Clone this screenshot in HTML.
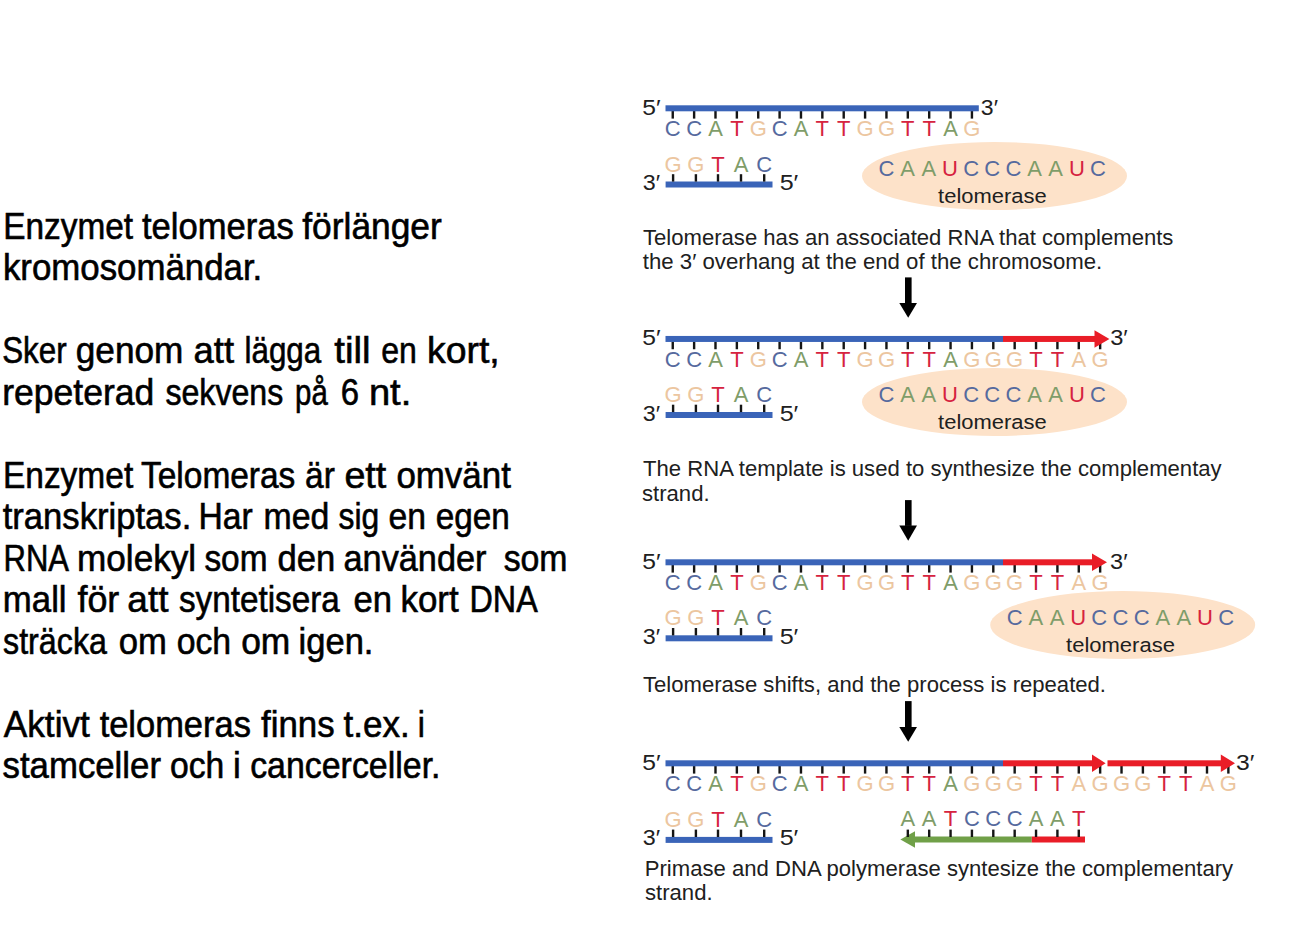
<!DOCTYPE html>
<html><head><meta charset="utf-8"><title>Telomeras</title>
<style>
html,body{margin:0;padding:0;background:#fff;width:1296px;height:936px;overflow:hidden}
svg{position:absolute;left:0;top:0;font-family:"Liberation Sans",sans-serif}
</style></head><body>
<svg width="1296" height="936" viewBox="0 0 1296 936">
<g id="left" font-size="36" fill="#000" stroke="#000" stroke-width="0.6">
<text id="W0_0" x="3.21" y="238.75" textLength="129.90" lengthAdjust="spacingAndGlyphs">Enzymet</text>
<text id="W0_1" x="141.93" y="238.75" textLength="151.82" lengthAdjust="spacingAndGlyphs">telomeras</text>
<text id="W0_2" x="302.31" y="238.75" textLength="139.49" lengthAdjust="spacingAndGlyphs">förlänger</text>
<text id="W1_0" x="2.88" y="280.25" textLength="259.39" lengthAdjust="spacingAndGlyphs">kromosomändar.</text>
<text id="W3_0" x="2.21" y="363.25" textLength="64.49" lengthAdjust="spacingAndGlyphs">Sker</text>
<text id="W3_1" x="75.74" y="363.25" textLength="107.65" lengthAdjust="spacingAndGlyphs">genom</text>
<text id="W3_2" x="193.55" y="363.25" textLength="40.45" lengthAdjust="spacingAndGlyphs">att</text>
<text id="W3_3" x="244.47" y="363.25" textLength="76.78" lengthAdjust="spacingAndGlyphs">lägga</text>
<text id="W3_4" x="334.34" y="363.25" textLength="36.34" lengthAdjust="spacingAndGlyphs">till</text>
<text id="W3_5" x="381.21" y="363.25" textLength="35.63" lengthAdjust="spacingAndGlyphs">en</text>
<text id="W3_6" x="427.06" y="363.25" textLength="72.62" lengthAdjust="spacingAndGlyphs">kort,</text>
<text id="W4_0" x="2.27" y="404.75" textLength="152.06" lengthAdjust="spacingAndGlyphs">repeterad</text>
<text id="W4_1" x="165.41" y="404.75" textLength="117.88" lengthAdjust="spacingAndGlyphs">sekvens</text>
<text id="W4_2" x="295.08" y="404.75" textLength="32.70" lengthAdjust="spacingAndGlyphs">på</text>
<text id="W4_3" x="340.82" y="404.75" textLength="18.30" lengthAdjust="spacingAndGlyphs">6</text>
<text id="W4_4" x="368.91" y="404.75" textLength="42.34" lengthAdjust="spacingAndGlyphs">nt.</text>
<text id="W6_0" x="2.92" y="487.75" textLength="130.30" lengthAdjust="spacingAndGlyphs">Enzymet</text>
<text id="W6_1" x="141.02" y="487.75" textLength="154.32" lengthAdjust="spacingAndGlyphs">Telomeras</text>
<text id="W6_2" x="305.11" y="487.75" textLength="29.75" lengthAdjust="spacingAndGlyphs">är</text>
<text id="W6_3" x="344.45" y="487.75" textLength="41.86" lengthAdjust="spacingAndGlyphs">ett</text>
<text id="W6_4" x="396.40" y="487.75" textLength="114.44" lengthAdjust="spacingAndGlyphs">omvänt</text>
<text id="W7_0" x="2.68" y="529.25" textLength="188.62" lengthAdjust="spacingAndGlyphs">transkriptas.</text>
<text id="W7_1" x="198.47" y="529.25" textLength="54.24" lengthAdjust="spacingAndGlyphs">Har</text>
<text id="W7_2" x="263.50" y="529.25" textLength="65.79" lengthAdjust="spacingAndGlyphs">med</text>
<text id="W7_3" x="338.48" y="529.25" textLength="40.69" lengthAdjust="spacingAndGlyphs">sig</text>
<text id="W7_4" x="388.42" y="529.25" textLength="37.46" lengthAdjust="spacingAndGlyphs">en</text>
<text id="W7_5" x="435.76" y="529.25" textLength="74.05" lengthAdjust="spacingAndGlyphs">egen</text>
<text id="W8_0" x="3.48" y="570.75" textLength="65.55" lengthAdjust="spacingAndGlyphs">RNA</text>
<text id="W8_1" x="77.03" y="570.75" textLength="119.14" lengthAdjust="spacingAndGlyphs">molekyl</text>
<text id="W8_2" x="204.40" y="570.75" textLength="63.07" lengthAdjust="spacingAndGlyphs">som</text>
<text id="W8_3" x="277.61" y="570.75" textLength="57.78" lengthAdjust="spacingAndGlyphs">den</text>
<text id="W8_4" x="343.57" y="570.75" textLength="142.88" lengthAdjust="spacingAndGlyphs">använder</text>
<text id="W8_5" x="503.64" y="570.75" textLength="63.92" lengthAdjust="spacingAndGlyphs">som</text>
<text id="W9_0" x="2.86" y="612.25" textLength="63.73" lengthAdjust="spacingAndGlyphs">mall</text>
<text id="W9_1" x="77.47" y="612.25" textLength="41.85" lengthAdjust="spacingAndGlyphs">för</text>
<text id="W9_2" x="127.35" y="612.25" textLength="41.07" lengthAdjust="spacingAndGlyphs">att</text>
<text id="W9_3" x="178.90" y="612.25" textLength="160.87" lengthAdjust="spacingAndGlyphs">syntetisera</text>
<text id="W9_4" x="353.61" y="612.25" textLength="38.53" lengthAdjust="spacingAndGlyphs">en</text>
<text id="W9_5" x="400.46" y="612.25" textLength="58.15" lengthAdjust="spacingAndGlyphs">kort</text>
<text id="W9_6" x="469.48" y="612.25" textLength="68.21" lengthAdjust="spacingAndGlyphs">DNA</text>
<text id="W10_0" x="3.07" y="653.75" textLength="103.86" lengthAdjust="spacingAndGlyphs">sträcka</text>
<text id="W10_1" x="118.73" y="653.75" textLength="48.12" lengthAdjust="spacingAndGlyphs">om</text>
<text id="W10_2" x="176.69" y="653.75" textLength="54.47" lengthAdjust="spacingAndGlyphs">och</text>
<text id="W10_3" x="241.14" y="653.75" textLength="49.20" lengthAdjust="spacingAndGlyphs">om</text>
<text id="W10_4" x="298.57" y="653.75" textLength="74.87" lengthAdjust="spacingAndGlyphs">igen.</text>
<text id="W12_0" x="3.70" y="736.75" textLength="86.23" lengthAdjust="spacingAndGlyphs">Aktivt</text>
<text id="W12_1" x="99.65" y="736.75" textLength="151.22" lengthAdjust="spacingAndGlyphs">telomeras</text>
<text id="W12_2" x="261.00" y="736.75" textLength="73.62" lengthAdjust="spacingAndGlyphs">finns</text>
<text id="W12_3" x="343.52" y="736.75" textLength="66.15" lengthAdjust="spacingAndGlyphs">t.ex.</text>
<text id="W12_4" x="417.66" y="736.75" textLength="7.12" lengthAdjust="spacingAndGlyphs">i</text>
<text id="W13_0" x="2.57" y="778.25" textLength="158.42" lengthAdjust="spacingAndGlyphs">stamceller</text>
<text id="W13_1" x="169.96" y="778.25" textLength="54.32" lengthAdjust="spacingAndGlyphs">och</text>
<text id="W13_2" x="233.09" y="778.25" textLength="7.78" lengthAdjust="spacingAndGlyphs">i</text>
<text id="W13_3" x="250.17" y="778.25" textLength="190.32" lengthAdjust="spacingAndGlyphs">cancerceller.</text>
</g>
<g id="diagram">
<rect x="671.55" y="111.00" width="2.40" height="7.60" fill="#151515"/>
<rect x="692.92" y="111.00" width="2.40" height="7.60" fill="#151515"/>
<rect x="714.29" y="111.00" width="2.40" height="7.60" fill="#151515"/>
<rect x="735.66" y="111.00" width="2.40" height="7.60" fill="#151515"/>
<rect x="757.03" y="111.00" width="2.40" height="7.60" fill="#151515"/>
<rect x="778.40" y="111.00" width="2.40" height="7.60" fill="#151515"/>
<rect x="799.77" y="111.00" width="2.40" height="7.60" fill="#151515"/>
<rect x="821.14" y="111.00" width="2.40" height="7.60" fill="#151515"/>
<rect x="842.51" y="111.00" width="2.40" height="7.60" fill="#151515"/>
<rect x="863.88" y="111.00" width="2.40" height="7.60" fill="#151515"/>
<rect x="885.25" y="111.00" width="2.40" height="7.60" fill="#151515"/>
<rect x="906.62" y="111.00" width="2.40" height="7.60" fill="#151515"/>
<rect x="927.99" y="111.00" width="2.40" height="7.60" fill="#151515"/>
<rect x="949.36" y="111.00" width="2.40" height="7.60" fill="#151515"/>
<rect x="970.73" y="111.00" width="2.40" height="7.60" fill="#151515"/>
<rect x="665.50" y="105.30" width="313.30" height="6.00" fill="#3a64b8"/>
<text x="672.75" y="136.00" font-size="22" fill="#566a9e" text-anchor="middle">C</text>
<text x="694.12" y="136.00" font-size="22" fill="#566a9e" text-anchor="middle">C</text>
<text x="715.49" y="136.00" font-size="22" fill="#7f9d69" text-anchor="middle">A</text>
<text x="736.86" y="136.00" font-size="22" fill="#d6233f" text-anchor="middle">T</text>
<text x="758.23" y="136.00" font-size="22" fill="#ecc6a0" text-anchor="middle">G</text>
<text x="779.60" y="136.00" font-size="22" fill="#566a9e" text-anchor="middle">C</text>
<text x="800.97" y="136.00" font-size="22" fill="#7f9d69" text-anchor="middle">A</text>
<text x="822.34" y="136.00" font-size="22" fill="#d6233f" text-anchor="middle">T</text>
<text x="843.71" y="136.00" font-size="22" fill="#d6233f" text-anchor="middle">T</text>
<text x="865.08" y="136.00" font-size="22" fill="#ecc6a0" text-anchor="middle">G</text>
<text x="886.45" y="136.00" font-size="22" fill="#ecc6a0" text-anchor="middle">G</text>
<text x="907.82" y="136.00" font-size="22" fill="#d6233f" text-anchor="middle">T</text>
<text x="929.19" y="136.00" font-size="22" fill="#d6233f" text-anchor="middle">T</text>
<text x="950.56" y="136.00" font-size="22" fill="#7f9d69" text-anchor="middle">A</text>
<text x="971.93" y="136.00" font-size="22" fill="#ecc6a0" text-anchor="middle">G</text>
<text x="642.37" y="114.80" font-size="22.5" fill="#202020" textLength="18.32" lengthAdjust="spacingAndGlyphs" id="l5t_0">5′</text>
<text x="980.84" y="114.80" font-size="22.5" fill="#202020" textLength="17.12" lengthAdjust="spacingAndGlyphs" id="l3t_0">3′</text>
<rect x="665.60" y="181.50" width="106.90" height="6.00" fill="#3a64b8"/>
<rect x="671.90" y="174.20" width="2.40" height="7.40" fill="#151515"/>
<rect x="694.70" y="174.20" width="2.40" height="7.40" fill="#151515"/>
<rect x="716.80" y="174.20" width="2.40" height="7.40" fill="#151515"/>
<rect x="739.80" y="174.20" width="2.40" height="7.40" fill="#151515"/>
<rect x="763.00" y="174.20" width="2.40" height="7.40" fill="#151515"/>
<text x="673.10" y="171.50" font-size="22" fill="#ecc6a0" text-anchor="middle">G</text>
<text x="695.90" y="171.50" font-size="22" fill="#ecc6a0" text-anchor="middle">G</text>
<text x="718.00" y="171.50" font-size="22" fill="#d6233f" text-anchor="middle">T</text>
<text x="741.00" y="171.50" font-size="22" fill="#7f9d69" text-anchor="middle">A</text>
<text x="764.20" y="171.50" font-size="22" fill="#566a9e" text-anchor="middle">C</text>
<text x="642.77" y="190.00" font-size="22.5" fill="#202020" textLength="17.30" lengthAdjust="spacingAndGlyphs" id="l3b_0">3′</text>
<text x="779.66" y="190.00" font-size="22.5" fill="#202020" textLength="18.67" lengthAdjust="spacingAndGlyphs" id="l5b_0">5′</text>
<ellipse cx="994.50" cy="176.00" rx="132.5" ry="34" fill="#fde2c9"/>
<text x="886.50" y="175.80" font-size="22" fill="#566a9e" text-anchor="middle">C</text>
<text x="907.65" y="175.80" font-size="22" fill="#7f9d69" text-anchor="middle">A</text>
<text x="928.80" y="175.80" font-size="22" fill="#7f9d69" text-anchor="middle">A</text>
<text x="949.95" y="175.80" font-size="22" fill="#d6233f" text-anchor="middle">U</text>
<text x="971.10" y="175.80" font-size="22" fill="#566a9e" text-anchor="middle">C</text>
<text x="992.25" y="175.80" font-size="22" fill="#566a9e" text-anchor="middle">C</text>
<text x="1013.40" y="175.80" font-size="22" fill="#566a9e" text-anchor="middle">C</text>
<text x="1034.55" y="175.80" font-size="22" fill="#7f9d69" text-anchor="middle">A</text>
<text x="1055.70" y="175.80" font-size="22" fill="#7f9d69" text-anchor="middle">A</text>
<text x="1076.85" y="175.80" font-size="22" fill="#d6233f" text-anchor="middle">U</text>
<text x="1098.00" y="175.80" font-size="22" fill="#566a9e" text-anchor="middle">C</text>
<text x="938.14" y="202.50" font-size="20.5" fill="#202020" textLength="108.58" lengthAdjust="spacingAndGlyphs" id="tel_0">telomerase</text>
<text x="643.00" y="245.00" font-size="21.8" fill="#202020" textLength="530.41" lengthAdjust="spacingAndGlyphs" id="cap1a">Telomerase has an associated RNA that complements</text>
<text x="642.80" y="269.40" font-size="21.8" fill="#202020" textLength="459.46" lengthAdjust="spacingAndGlyphs" id="cap1b">the 3′ overhang at the end of the chromosome.</text>
<rect x="905.00" y="277.40" width="6.60" height="26.10" fill="#000"/>
<polygon points="899.30,303.00 917.00,303.00 908.20,317.80" fill="#000"/>
<rect x="671.55" y="341.65" width="2.40" height="7.60" fill="#151515"/>
<rect x="692.92" y="341.65" width="2.40" height="7.60" fill="#151515"/>
<rect x="714.29" y="341.65" width="2.40" height="7.60" fill="#151515"/>
<rect x="735.66" y="341.65" width="2.40" height="7.60" fill="#151515"/>
<rect x="757.03" y="341.65" width="2.40" height="7.60" fill="#151515"/>
<rect x="778.40" y="341.65" width="2.40" height="7.60" fill="#151515"/>
<rect x="799.77" y="341.65" width="2.40" height="7.60" fill="#151515"/>
<rect x="821.14" y="341.65" width="2.40" height="7.60" fill="#151515"/>
<rect x="842.51" y="341.65" width="2.40" height="7.60" fill="#151515"/>
<rect x="863.88" y="341.65" width="2.40" height="7.60" fill="#151515"/>
<rect x="885.25" y="341.65" width="2.40" height="7.60" fill="#151515"/>
<rect x="906.62" y="341.65" width="2.40" height="7.60" fill="#151515"/>
<rect x="927.99" y="341.65" width="2.40" height="7.60" fill="#151515"/>
<rect x="949.36" y="341.65" width="2.40" height="7.60" fill="#151515"/>
<rect x="970.73" y="341.65" width="2.40" height="7.60" fill="#151515"/>
<rect x="992.10" y="341.65" width="2.40" height="7.60" fill="#151515"/>
<rect x="1013.47" y="341.65" width="2.40" height="7.60" fill="#151515"/>
<rect x="1034.84" y="341.65" width="2.40" height="7.60" fill="#151515"/>
<rect x="1056.21" y="341.65" width="2.40" height="7.60" fill="#151515"/>
<rect x="1077.58" y="341.65" width="2.40" height="7.60" fill="#151515"/>
<rect x="1098.95" y="341.65" width="2.40" height="7.60" fill="#151515"/>
<rect x="665.50" y="335.95" width="337.50" height="6.00" fill="#3a64b8"/>
<rect x="1003.00" y="335.95" width="92.00" height="6.00" fill="#e91d27"/>
<polygon points="1094.50,330.25 1109.40,338.95 1094.50,347.65" fill="#e91d27"/>
<text x="672.75" y="366.65" font-size="22" fill="#566a9e" text-anchor="middle">C</text>
<text x="694.12" y="366.65" font-size="22" fill="#566a9e" text-anchor="middle">C</text>
<text x="715.49" y="366.65" font-size="22" fill="#7f9d69" text-anchor="middle">A</text>
<text x="736.86" y="366.65" font-size="22" fill="#d6233f" text-anchor="middle">T</text>
<text x="758.23" y="366.65" font-size="22" fill="#ecc6a0" text-anchor="middle">G</text>
<text x="779.60" y="366.65" font-size="22" fill="#566a9e" text-anchor="middle">C</text>
<text x="800.97" y="366.65" font-size="22" fill="#7f9d69" text-anchor="middle">A</text>
<text x="822.34" y="366.65" font-size="22" fill="#d6233f" text-anchor="middle">T</text>
<text x="843.71" y="366.65" font-size="22" fill="#d6233f" text-anchor="middle">T</text>
<text x="865.08" y="366.65" font-size="22" fill="#ecc6a0" text-anchor="middle">G</text>
<text x="886.45" y="366.65" font-size="22" fill="#ecc6a0" text-anchor="middle">G</text>
<text x="907.82" y="366.65" font-size="22" fill="#d6233f" text-anchor="middle">T</text>
<text x="929.19" y="366.65" font-size="22" fill="#d6233f" text-anchor="middle">T</text>
<text x="950.56" y="366.65" font-size="22" fill="#7f9d69" text-anchor="middle">A</text>
<text x="971.93" y="366.65" font-size="22" fill="#ecc6a0" text-anchor="middle">G</text>
<text x="993.30" y="366.65" font-size="22" fill="#ecc6a0" text-anchor="middle">G</text>
<text x="1014.67" y="366.65" font-size="22" fill="#ecc6a0" text-anchor="middle">G</text>
<text x="1036.04" y="366.65" font-size="22" fill="#d6233f" text-anchor="middle">T</text>
<text x="1057.41" y="366.65" font-size="22" fill="#d6233f" text-anchor="middle">T</text>
<text x="1078.78" y="366.65" font-size="22" fill="#ecc6a0" text-anchor="middle">A</text>
<text x="1100.15" y="366.65" font-size="22" fill="#ecc6a0" text-anchor="middle">G</text>
<text x="642.37" y="345.45" font-size="22.5" fill="#202020" textLength="18.32" lengthAdjust="spacingAndGlyphs" id="l5t_230">5′</text>
<text x="1110.15" y="345.45" font-size="22.5" fill="#202020" textLength="17.58" lengthAdjust="spacingAndGlyphs" id="l3t_230">3′</text>
<rect x="665.60" y="412.00" width="106.90" height="6.00" fill="#3a64b8"/>
<rect x="671.90" y="404.70" width="2.40" height="7.40" fill="#151515"/>
<rect x="694.70" y="404.70" width="2.40" height="7.40" fill="#151515"/>
<rect x="716.80" y="404.70" width="2.40" height="7.40" fill="#151515"/>
<rect x="739.80" y="404.70" width="2.40" height="7.40" fill="#151515"/>
<rect x="763.00" y="404.70" width="2.40" height="7.40" fill="#151515"/>
<text x="673.10" y="402.00" font-size="22" fill="#ecc6a0" text-anchor="middle">G</text>
<text x="695.90" y="402.00" font-size="22" fill="#ecc6a0" text-anchor="middle">G</text>
<text x="718.00" y="402.00" font-size="22" fill="#d6233f" text-anchor="middle">T</text>
<text x="741.00" y="402.00" font-size="22" fill="#7f9d69" text-anchor="middle">A</text>
<text x="764.20" y="402.00" font-size="22" fill="#566a9e" text-anchor="middle">C</text>
<text x="642.77" y="420.50" font-size="22.5" fill="#202020" textLength="17.30" lengthAdjust="spacingAndGlyphs" id="l3b_230">3′</text>
<text x="779.66" y="420.50" font-size="22.5" fill="#202020" textLength="18.67" lengthAdjust="spacingAndGlyphs" id="l5b_230">5′</text>
<ellipse cx="994.50" cy="402.00" rx="132.5" ry="34" fill="#fde2c9"/>
<text x="886.50" y="401.80" font-size="22" fill="#566a9e" text-anchor="middle">C</text>
<text x="907.65" y="401.80" font-size="22" fill="#7f9d69" text-anchor="middle">A</text>
<text x="928.80" y="401.80" font-size="22" fill="#7f9d69" text-anchor="middle">A</text>
<text x="949.95" y="401.80" font-size="22" fill="#d6233f" text-anchor="middle">U</text>
<text x="971.10" y="401.80" font-size="22" fill="#566a9e" text-anchor="middle">C</text>
<text x="992.25" y="401.80" font-size="22" fill="#566a9e" text-anchor="middle">C</text>
<text x="1013.40" y="401.80" font-size="22" fill="#566a9e" text-anchor="middle">C</text>
<text x="1034.55" y="401.80" font-size="22" fill="#7f9d69" text-anchor="middle">A</text>
<text x="1055.70" y="401.80" font-size="22" fill="#7f9d69" text-anchor="middle">A</text>
<text x="1076.85" y="401.80" font-size="22" fill="#d6233f" text-anchor="middle">U</text>
<text x="1098.00" y="401.80" font-size="22" fill="#566a9e" text-anchor="middle">C</text>
<text x="938.14" y="428.50" font-size="20.5" fill="#202020" textLength="108.58" lengthAdjust="spacingAndGlyphs" id="tel_226">telomerase</text>
<text x="643.00" y="476.25" font-size="21.8" fill="#202020" textLength="578.64" lengthAdjust="spacingAndGlyphs" id="cap2a">The RNA template is used to synthesize the complementay</text>
<text x="641.98" y="500.60" font-size="21.8" fill="#202020" textLength="67.68" lengthAdjust="spacingAndGlyphs" id="cap2b">strand.</text>
<rect x="905.00" y="500.10" width="6.60" height="25.80" fill="#000"/>
<polygon points="899.30,525.40 917.00,525.40 908.20,540.80" fill="#000"/>
<rect x="671.55" y="565.00" width="2.40" height="7.60" fill="#151515"/>
<rect x="692.92" y="565.00" width="2.40" height="7.60" fill="#151515"/>
<rect x="714.29" y="565.00" width="2.40" height="7.60" fill="#151515"/>
<rect x="735.66" y="565.00" width="2.40" height="7.60" fill="#151515"/>
<rect x="757.03" y="565.00" width="2.40" height="7.60" fill="#151515"/>
<rect x="778.40" y="565.00" width="2.40" height="7.60" fill="#151515"/>
<rect x="799.77" y="565.00" width="2.40" height="7.60" fill="#151515"/>
<rect x="821.14" y="565.00" width="2.40" height="7.60" fill="#151515"/>
<rect x="842.51" y="565.00" width="2.40" height="7.60" fill="#151515"/>
<rect x="863.88" y="565.00" width="2.40" height="7.60" fill="#151515"/>
<rect x="885.25" y="565.00" width="2.40" height="7.60" fill="#151515"/>
<rect x="906.62" y="565.00" width="2.40" height="7.60" fill="#151515"/>
<rect x="927.99" y="565.00" width="2.40" height="7.60" fill="#151515"/>
<rect x="949.36" y="565.00" width="2.40" height="7.60" fill="#151515"/>
<rect x="970.73" y="565.00" width="2.40" height="7.60" fill="#151515"/>
<rect x="992.10" y="565.00" width="2.40" height="7.60" fill="#151515"/>
<rect x="1013.47" y="565.00" width="2.40" height="7.60" fill="#151515"/>
<rect x="1034.84" y="565.00" width="2.40" height="7.60" fill="#151515"/>
<rect x="1056.21" y="565.00" width="2.40" height="7.60" fill="#151515"/>
<rect x="1077.58" y="565.00" width="2.40" height="7.60" fill="#151515"/>
<rect x="1098.95" y="565.00" width="2.40" height="7.60" fill="#151515"/>
<rect x="665.50" y="559.30" width="337.50" height="6.00" fill="#3a64b8"/>
<rect x="1003.00" y="559.30" width="89.50" height="6.00" fill="#e91d27"/>
<polygon points="1092.00,553.60 1107.00,562.30 1092.00,571.00" fill="#e91d27"/>
<text x="672.75" y="590.00" font-size="22" fill="#566a9e" text-anchor="middle">C</text>
<text x="694.12" y="590.00" font-size="22" fill="#566a9e" text-anchor="middle">C</text>
<text x="715.49" y="590.00" font-size="22" fill="#7f9d69" text-anchor="middle">A</text>
<text x="736.86" y="590.00" font-size="22" fill="#d6233f" text-anchor="middle">T</text>
<text x="758.23" y="590.00" font-size="22" fill="#ecc6a0" text-anchor="middle">G</text>
<text x="779.60" y="590.00" font-size="22" fill="#566a9e" text-anchor="middle">C</text>
<text x="800.97" y="590.00" font-size="22" fill="#7f9d69" text-anchor="middle">A</text>
<text x="822.34" y="590.00" font-size="22" fill="#d6233f" text-anchor="middle">T</text>
<text x="843.71" y="590.00" font-size="22" fill="#d6233f" text-anchor="middle">T</text>
<text x="865.08" y="590.00" font-size="22" fill="#ecc6a0" text-anchor="middle">G</text>
<text x="886.45" y="590.00" font-size="22" fill="#ecc6a0" text-anchor="middle">G</text>
<text x="907.82" y="590.00" font-size="22" fill="#d6233f" text-anchor="middle">T</text>
<text x="929.19" y="590.00" font-size="22" fill="#d6233f" text-anchor="middle">T</text>
<text x="950.56" y="590.00" font-size="22" fill="#7f9d69" text-anchor="middle">A</text>
<text x="971.93" y="590.00" font-size="22" fill="#ecc6a0" text-anchor="middle">G</text>
<text x="993.30" y="590.00" font-size="22" fill="#ecc6a0" text-anchor="middle">G</text>
<text x="1014.67" y="590.00" font-size="22" fill="#ecc6a0" text-anchor="middle">G</text>
<text x="1036.04" y="590.00" font-size="22" fill="#d6233f" text-anchor="middle">T</text>
<text x="1057.41" y="590.00" font-size="22" fill="#d6233f" text-anchor="middle">T</text>
<text x="1078.78" y="590.00" font-size="22" fill="#ecc6a0" text-anchor="middle">A</text>
<text x="1100.15" y="590.00" font-size="22" fill="#ecc6a0" text-anchor="middle">G</text>
<text x="642.37" y="568.80" font-size="22.5" fill="#202020" textLength="18.32" lengthAdjust="spacingAndGlyphs" id="l5t_454">5′</text>
<text x="1110.14" y="568.80" font-size="22.5" fill="#202020" textLength="17.55" lengthAdjust="spacingAndGlyphs" id="l3t_454">3′</text>
<rect x="665.60" y="635.30" width="106.90" height="6.00" fill="#3a64b8"/>
<rect x="671.90" y="628.00" width="2.40" height="7.40" fill="#151515"/>
<rect x="694.70" y="628.00" width="2.40" height="7.40" fill="#151515"/>
<rect x="716.80" y="628.00" width="2.40" height="7.40" fill="#151515"/>
<rect x="739.80" y="628.00" width="2.40" height="7.40" fill="#151515"/>
<rect x="763.00" y="628.00" width="2.40" height="7.40" fill="#151515"/>
<text x="673.10" y="625.30" font-size="22" fill="#ecc6a0" text-anchor="middle">G</text>
<text x="695.90" y="625.30" font-size="22" fill="#ecc6a0" text-anchor="middle">G</text>
<text x="718.00" y="625.30" font-size="22" fill="#d6233f" text-anchor="middle">T</text>
<text x="741.00" y="625.30" font-size="22" fill="#7f9d69" text-anchor="middle">A</text>
<text x="764.20" y="625.30" font-size="22" fill="#566a9e" text-anchor="middle">C</text>
<text x="642.77" y="643.80" font-size="22.5" fill="#202020" textLength="17.30" lengthAdjust="spacingAndGlyphs" id="l3b_453">3′</text>
<text x="779.66" y="643.80" font-size="22.5" fill="#202020" textLength="18.67" lengthAdjust="spacingAndGlyphs" id="l5b_453">5′</text>
<ellipse cx="1122.70" cy="625.00" rx="132.5" ry="34" fill="#fde2c9"/>
<text x="1014.70" y="624.80" font-size="22" fill="#566a9e" text-anchor="middle">C</text>
<text x="1035.85" y="624.80" font-size="22" fill="#7f9d69" text-anchor="middle">A</text>
<text x="1057.00" y="624.80" font-size="22" fill="#7f9d69" text-anchor="middle">A</text>
<text x="1078.15" y="624.80" font-size="22" fill="#d6233f" text-anchor="middle">U</text>
<text x="1099.30" y="624.80" font-size="22" fill="#566a9e" text-anchor="middle">C</text>
<text x="1120.45" y="624.80" font-size="22" fill="#566a9e" text-anchor="middle">C</text>
<text x="1141.60" y="624.80" font-size="22" fill="#566a9e" text-anchor="middle">C</text>
<text x="1162.75" y="624.80" font-size="22" fill="#7f9d69" text-anchor="middle">A</text>
<text x="1183.90" y="624.80" font-size="22" fill="#7f9d69" text-anchor="middle">A</text>
<text x="1205.05" y="624.80" font-size="22" fill="#d6233f" text-anchor="middle">U</text>
<text x="1226.20" y="624.80" font-size="22" fill="#566a9e" text-anchor="middle">C</text>
<text x="1066.10" y="651.50" font-size="20.5" fill="#202020" textLength="108.81" lengthAdjust="spacingAndGlyphs" id="tel_449">telomerase</text>
<text x="643.00" y="691.90" font-size="21.8" fill="#202020" textLength="463.01" lengthAdjust="spacingAndGlyphs" id="cap3">Telomerase shifts, and the process is repeated.</text>
<rect x="905.00" y="701.10" width="6.60" height="26.40" fill="#000"/>
<polygon points="899.30,727.00 917.00,727.00 908.20,741.80" fill="#000"/>
<rect x="671.55" y="766.00" width="2.40" height="7.60" fill="#151515"/>
<rect x="692.92" y="766.00" width="2.40" height="7.60" fill="#151515"/>
<rect x="714.29" y="766.00" width="2.40" height="7.60" fill="#151515"/>
<rect x="735.66" y="766.00" width="2.40" height="7.60" fill="#151515"/>
<rect x="757.03" y="766.00" width="2.40" height="7.60" fill="#151515"/>
<rect x="778.40" y="766.00" width="2.40" height="7.60" fill="#151515"/>
<rect x="799.77" y="766.00" width="2.40" height="7.60" fill="#151515"/>
<rect x="821.14" y="766.00" width="2.40" height="7.60" fill="#151515"/>
<rect x="842.51" y="766.00" width="2.40" height="7.60" fill="#151515"/>
<rect x="863.88" y="766.00" width="2.40" height="7.60" fill="#151515"/>
<rect x="885.25" y="766.00" width="2.40" height="7.60" fill="#151515"/>
<rect x="906.62" y="766.00" width="2.40" height="7.60" fill="#151515"/>
<rect x="927.99" y="766.00" width="2.40" height="7.60" fill="#151515"/>
<rect x="949.36" y="766.00" width="2.40" height="7.60" fill="#151515"/>
<rect x="970.73" y="766.00" width="2.40" height="7.60" fill="#151515"/>
<rect x="992.10" y="766.00" width="2.40" height="7.60" fill="#151515"/>
<rect x="1013.47" y="766.00" width="2.40" height="7.60" fill="#151515"/>
<rect x="1034.84" y="766.00" width="2.40" height="7.60" fill="#151515"/>
<rect x="1056.21" y="766.00" width="2.40" height="7.60" fill="#151515"/>
<rect x="1077.58" y="766.00" width="2.40" height="7.60" fill="#151515"/>
<rect x="1098.95" y="766.00" width="2.40" height="7.60" fill="#151515"/>
<rect x="1120.32" y="766.00" width="2.40" height="7.60" fill="#151515"/>
<rect x="1141.69" y="766.00" width="2.40" height="7.60" fill="#151515"/>
<rect x="1163.06" y="766.00" width="2.40" height="7.60" fill="#151515"/>
<rect x="1184.43" y="766.00" width="2.40" height="7.60" fill="#151515"/>
<rect x="1205.80" y="766.00" width="2.40" height="7.60" fill="#151515"/>
<rect x="1227.17" y="766.00" width="2.40" height="7.60" fill="#151515"/>
<rect x="665.50" y="760.30" width="337.50" height="6.00" fill="#3a64b8"/>
<rect x="1003.00" y="760.30" width="89.50" height="6.00" fill="#e91d27"/>
<polygon points="1092.00,754.60 1105.60,763.30 1092.00,772.00" fill="#e91d27"/>
<rect x="1107.50" y="760.30" width="113.80" height="6.00" fill="#e91d27"/>
<polygon points="1220.80,754.60 1235.00,763.30 1220.80,772.00" fill="#e91d27"/>
<text x="672.75" y="791.00" font-size="22" fill="#566a9e" text-anchor="middle">C</text>
<text x="694.12" y="791.00" font-size="22" fill="#566a9e" text-anchor="middle">C</text>
<text x="715.49" y="791.00" font-size="22" fill="#7f9d69" text-anchor="middle">A</text>
<text x="736.86" y="791.00" font-size="22" fill="#d6233f" text-anchor="middle">T</text>
<text x="758.23" y="791.00" font-size="22" fill="#ecc6a0" text-anchor="middle">G</text>
<text x="779.60" y="791.00" font-size="22" fill="#566a9e" text-anchor="middle">C</text>
<text x="800.97" y="791.00" font-size="22" fill="#7f9d69" text-anchor="middle">A</text>
<text x="822.34" y="791.00" font-size="22" fill="#d6233f" text-anchor="middle">T</text>
<text x="843.71" y="791.00" font-size="22" fill="#d6233f" text-anchor="middle">T</text>
<text x="865.08" y="791.00" font-size="22" fill="#ecc6a0" text-anchor="middle">G</text>
<text x="886.45" y="791.00" font-size="22" fill="#ecc6a0" text-anchor="middle">G</text>
<text x="907.82" y="791.00" font-size="22" fill="#d6233f" text-anchor="middle">T</text>
<text x="929.19" y="791.00" font-size="22" fill="#d6233f" text-anchor="middle">T</text>
<text x="950.56" y="791.00" font-size="22" fill="#7f9d69" text-anchor="middle">A</text>
<text x="971.93" y="791.00" font-size="22" fill="#ecc6a0" text-anchor="middle">G</text>
<text x="993.30" y="791.00" font-size="22" fill="#ecc6a0" text-anchor="middle">G</text>
<text x="1014.67" y="791.00" font-size="22" fill="#ecc6a0" text-anchor="middle">G</text>
<text x="1036.04" y="791.00" font-size="22" fill="#d6233f" text-anchor="middle">T</text>
<text x="1057.41" y="791.00" font-size="22" fill="#d6233f" text-anchor="middle">T</text>
<text x="1078.78" y="791.00" font-size="22" fill="#ecc6a0" text-anchor="middle">A</text>
<text x="1100.15" y="791.00" font-size="22" fill="#ecc6a0" text-anchor="middle">G</text>
<text x="1121.52" y="791.00" font-size="22" fill="#ecc6a0" text-anchor="middle">G</text>
<text x="1142.89" y="791.00" font-size="22" fill="#ecc6a0" text-anchor="middle">G</text>
<text x="1164.26" y="791.00" font-size="22" fill="#d6233f" text-anchor="middle">T</text>
<text x="1185.63" y="791.00" font-size="22" fill="#d6233f" text-anchor="middle">T</text>
<text x="1207.00" y="791.00" font-size="22" fill="#ecc6a0" text-anchor="middle">A</text>
<text x="1228.37" y="791.00" font-size="22" fill="#ecc6a0" text-anchor="middle">G</text>
<text x="642.37" y="769.80" font-size="22.5" fill="#202020" textLength="18.32" lengthAdjust="spacingAndGlyphs" id="l5t_655">5′</text>
<text x="1236.00" y="769.80" font-size="22.5" fill="#202020" textLength="18.36" lengthAdjust="spacingAndGlyphs" id="l3t_655">3′</text>
<rect x="665.60" y="836.90" width="106.90" height="6.00" fill="#3a64b8"/>
<rect x="671.90" y="829.60" width="2.40" height="7.40" fill="#151515"/>
<rect x="694.70" y="829.60" width="2.40" height="7.40" fill="#151515"/>
<rect x="716.80" y="829.60" width="2.40" height="7.40" fill="#151515"/>
<rect x="739.80" y="829.60" width="2.40" height="7.40" fill="#151515"/>
<rect x="763.00" y="829.60" width="2.40" height="7.40" fill="#151515"/>
<text x="673.10" y="826.90" font-size="22" fill="#ecc6a0" text-anchor="middle">G</text>
<text x="695.90" y="826.90" font-size="22" fill="#ecc6a0" text-anchor="middle">G</text>
<text x="718.00" y="826.90" font-size="22" fill="#d6233f" text-anchor="middle">T</text>
<text x="741.00" y="826.90" font-size="22" fill="#7f9d69" text-anchor="middle">A</text>
<text x="764.20" y="826.90" font-size="22" fill="#566a9e" text-anchor="middle">C</text>
<text x="642.77" y="845.40" font-size="22.5" fill="#202020" textLength="17.30" lengthAdjust="spacingAndGlyphs" id="l3b_655">3′</text>
<text x="779.66" y="845.40" font-size="22.5" fill="#202020" textLength="18.67" lengthAdjust="spacingAndGlyphs" id="l5b_655">5′</text>
<rect x="914.50" y="836.50" width="117.30" height="6.00" fill="#70a048"/>
<polygon points="915.00,831.20 900.40,839.50 915.00,847.80" fill="#70a048"/>
<rect x="1031.80" y="836.50" width="53.20" height="6.00" fill="#e91d27"/>
<rect x="906.62" y="829.60" width="2.40" height="7.40" fill="#151515"/>
<rect x="927.99" y="829.60" width="2.40" height="7.40" fill="#151515"/>
<rect x="949.36" y="829.60" width="2.40" height="7.40" fill="#151515"/>
<rect x="970.73" y="829.60" width="2.40" height="7.40" fill="#151515"/>
<rect x="992.10" y="829.60" width="2.40" height="7.40" fill="#151515"/>
<rect x="1013.47" y="829.60" width="2.40" height="7.40" fill="#151515"/>
<rect x="1034.84" y="829.60" width="2.40" height="7.40" fill="#151515"/>
<rect x="1056.21" y="829.60" width="2.40" height="7.40" fill="#151515"/>
<rect x="1077.58" y="829.60" width="2.40" height="7.40" fill="#151515"/>
<text x="907.82" y="825.80" font-size="22" fill="#7f9d69" text-anchor="middle">A</text>
<text x="929.19" y="825.80" font-size="22" fill="#7f9d69" text-anchor="middle">A</text>
<text x="950.56" y="825.80" font-size="22" fill="#d6233f" text-anchor="middle">T</text>
<text x="971.93" y="825.80" font-size="22" fill="#566a9e" text-anchor="middle">C</text>
<text x="993.30" y="825.80" font-size="22" fill="#566a9e" text-anchor="middle">C</text>
<text x="1014.67" y="825.80" font-size="22" fill="#566a9e" text-anchor="middle">C</text>
<text x="1036.04" y="825.80" font-size="22" fill="#7f9d69" text-anchor="middle">A</text>
<text x="1057.41" y="825.80" font-size="22" fill="#7f9d69" text-anchor="middle">A</text>
<text x="1078.78" y="825.80" font-size="22" fill="#d6233f" text-anchor="middle">T</text>
<text x="644.77" y="875.60" font-size="21.8" fill="#202020" textLength="588.33" lengthAdjust="spacingAndGlyphs" id="cap4a">Primase and DNA polymerase syntesize the complementary</text>
<text x="644.98" y="900.00" font-size="21.8" fill="#202020" textLength="67.68" lengthAdjust="spacingAndGlyphs" id="cap4b">strand.</text>
</g>
</svg>
</body></html>
